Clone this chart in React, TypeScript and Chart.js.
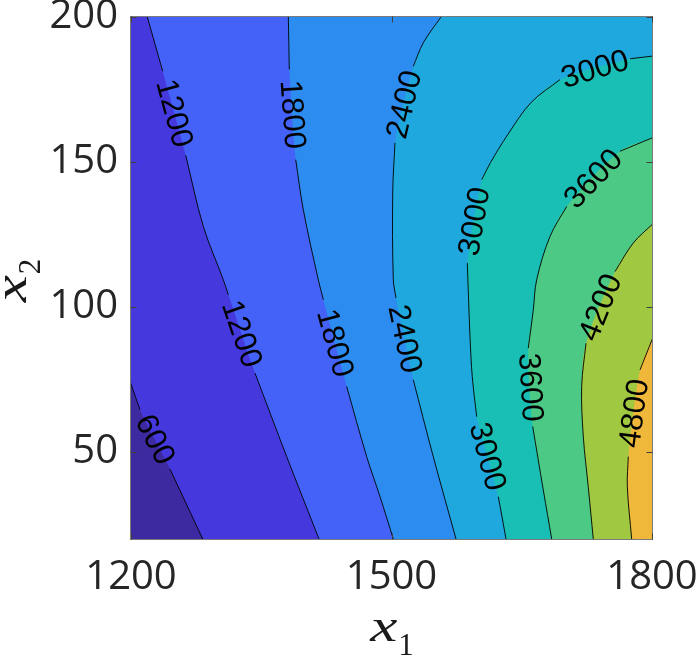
import React, { useEffect, useRef } from 'react';
import { Chart, registerables } from 'chart.js';

Chart.register(...registerables);

// ---------- data ----------
const X_TICKS = [1200, 1500, 1800];
const Y_TICKS = [50, 100, 150, 200];
const X_MIN = 1200;
const X_MAX = 1800;
const Y_MIN = 20;
const Y_MAX = 200;
const LEVELS = [600, 1200, 1800, 2400, 3000, 3600, 4200, 4800];
const BAND_COLORS = ['#3e2aa0', '#4539de', '#4462f7', '#2d8cef', '#1fa8dd', '#19bfb5', '#4cc984', '#a0c840', '#efb83a'];

type P = [number, number] | null;
// each contour: points along the line; null marks a gap holding the level label
const C600: P[] = [[1200, 73.4], [1210.4, 64.5], null, [1244.9, 44.1], [1282.6, 20]];
const C1200: P[] = [[1218.8, 200], [1236.5, 181.3], null, [1263, 152.3], [1283.3, 127.8], [1306.3, 109.4], [1312.1, 104.2], null, [1342.8, 77.2], [1379.3, 48.4], [1416.5, 20]];
const C1800: P[] = [[1381.2, 200], [1382.3, 181.9], null, [1389.7, 150.8], [1398.4, 133.6], [1415.7, 109.4], [1421.5, 102.5], null, [1448.4, 72.6], [1471.4, 48.4], [1486.8, 34.6], [1502.1, 20]];
const C2400: P[] = [[1557, 200], [1536.6, 191.1], [1525.1, 183.0], null, [1504, 156.6], [1501.4, 139.3], [1502.1, 109.4], [1505.2, 103.1], null, [1525.1, 74.9], [1548.1, 48.4], [1574.3, 20]];
const C3000: P[] = [[1800, 186.5], [1774.7, 185.6], null, [1694, 178.4], [1661, 170.6], [1634, 159.5], [1614, 149.8], [1603.9, 143.9], null, [1587.3, 115.2], [1588.5, 105], [1590.4, 89.8], [1593, 76], [1598.1, 62.2], null, [1623, 34.6], [1631.9, 20]];
const C3600: P[] = [[1800, 158.3], [1763.1, 153.7], null, [1701.8, 134.7], [1682.5, 124.3], [1667.2, 109.4], [1663.3, 99], [1657.5, 85.8], null, [1662.6, 58.8], [1674.8, 36.9], [1684.5, 20]];
const C4200: P[] = [[1800, 128.4], [1778.5, 122.1], [1757.4, 112.2], null, [1724, 87.5], [1719, 72.6], [1720.9, 55.3], [1726.6, 38], [1732.4, 20]];
const C4800: P[] = [[1800, 88.7], [1786.2, 78.3], null, [1772.7, 48.4], [1771.6, 38], [1776.6, 20]];

const CONTOURS = [C600, C1200, C1800, C2400, C3000, C3600, C4200, C4800];

const TENSION = 0.35;

// ---------- helpers ----------
type XY = { x: number | null; y: number | null };
const xy = (p: [number, number]): XY => ({ x: p[0], y: p[1] });

// continue a contour a little past the frame so the smoothing ends outside the clipped area
function outward(a: [number, number], b: [number, number]): [number, number] {
  return [a[0] + (a[0] - b[0]) * 3, a[1] + (a[1] - b[1]) * 3];
}

function lineData(pts: P[]): XY[] {
  const solid = pts.filter((p) => p !== null) as [number, number][];
  const s = outward(solid[0], solid[1]);
  const e = outward(solid[solid.length - 1], solid[solid.length - 2]);
  return [xy(s), ...pts.map((p) => (p ? xy(p) : { x: null, y: null })), xy(e)];
}

// region above a level: the contour, then around the (enlarged) frame back to its start
function regionPolygon(pts: P[]): XY[] {
  const solid = pts.filter((p) => p !== null) as [number, number][];
  const start = solid[0];
  const s = outward(solid[0], solid[1]);
  const e = outward(solid[solid.length - 1], solid[solid.length - 2]);
  const dx = (X_MAX - X_MIN) / 6;
  const dy = (Y_MAX - Y_MIN) / 2;
  const corners: [number, number][] = [[X_MAX + dx, Y_MIN - dy]];
  if (start[0] !== X_MAX) corners.push([X_MAX + dx, Y_MAX + dy]);
  if (start[0] === X_MIN) corners.push([X_MIN - dx, Y_MAX + dy]);
  return [s, ...solid, e, ...corners].map(xy);
}

// italic "x" (slightly widened, like TeX's math italic) with an upright subscript
function drawSub(ctx: CanvasRenderingContext2D, base: string, sub: string, cx: number, by: number) {
  const f1 = 'italic 47px "Liberation Serif", "DejaVu Serif", serif';
  const f2 = '31px "Liberation Serif", "DejaVu Serif", serif';
  const stretch = 1.3;
  ctx.font = f1;
  const w1 = ctx.measureText(base).width * stretch;
  ctx.font = f2;
  const w2 = ctx.measureText(sub).width;
  const s = cx - (w1 + w2) / 2;
  ctx.textAlign = 'left';
  ctx.textBaseline = 'alphabetic';
  ctx.save();
  ctx.translate(s, by);
  ctx.scale(stretch, 1);
  ctx.font = f1;
  ctx.fillText(base, 0, 0);
  ctx.restore();
  ctx.font = f2;
  ctx.fillText(sub, s + w1 + 1, by + 14);
}

const overlay = {
  id: 'overlay',
  afterDatasetsDraw(chart: any) {
    const { ctx, chartArea: a, scales } = chart;
    const xs = scales.x;
    const ys = scales.y;
    ctx.save();
    // contour labels
    ctx.fillStyle = '#000';
    ctx.font = '31px "Liberation Sans", Arial, sans-serif';
    ctx.textAlign = 'center';
    ctx.textBaseline = 'middle';
    CONTOURS.forEach((pts, i) => {
      for (let k = 1; k < pts.length - 1; k++) {
        if (pts[k] !== null) continue;
        const p0 = pts[k - 1] as [number, number];
        const p1 = pts[k + 1] as [number, number];
        const x0 = xs.getPixelForValue(p0[0]);
        const y0 = ys.getPixelForValue(p0[1]);
        const x1 = xs.getPixelForValue(p1[0]);
        const y1 = ys.getPixelForValue(p1[1]);
        let ang = Math.atan2(y1 - y0, x1 - x0);
        if (ang > Math.PI / 2 + 1e-6) ang -= Math.PI;
        else if (ang <= -Math.PI / 2) ang += Math.PI;
        ctx.save();
        ctx.translate((x0 + x1) / 2, (y0 + y1) / 2);
        ctx.rotate(ang);
        ctx.fillText(String(LEVELS[i]), 0, 1);
        ctx.restore();
      }
    });
    // frame
    ctx.strokeStyle = '#7a7a7a';
    ctx.lineWidth = 1;
    const L = Math.round(a.left) - 0.5;
    const R = Math.round(a.right) + 0.5;
    const T = Math.round(a.top) - 0.5;
    const B = Math.round(a.bottom) + 0.5;
    ctx.strokeRect(L, T, R - L, B - T);
    // inward ticks on all four sides
    ctx.strokeStyle = '#404040';
    ctx.beginPath();
    X_TICKS.forEach((v) => {
      const px = Math.round(xs.getPixelForValue(v)) + 0.5;
      ctx.moveTo(px, B); ctx.lineTo(px, B - 6);
      ctx.moveTo(px, T); ctx.lineTo(px, T + 6);
    });
    Y_TICKS.forEach((v) => {
      const py = Math.round(ys.getPixelForValue(v)) + 0.5;
      ctx.moveTo(L, py); ctx.lineTo(L + 6, py);
      ctx.moveTo(R, py); ctx.lineTo(R - 6, py);
    });
    ctx.stroke();
    // axis titles
    ctx.fillStyle = '#1a1a1a';
    drawSub(ctx, 'x', '1', (a.left + a.right) / 2, 641);
    ctx.save();
    ctx.translate(26, (a.top + a.bottom) / 2 + 3);
    ctx.rotate(-Math.PI / 2);
    drawSub(ctx, 'x', '2', 0, 0);
    ctx.restore();
    ctx.restore();
  },
};

export default function App() {
  const ref = useRef<HTMLCanvasElement | null>(null);
  useEffect(() => {
    if (!ref.current) return;
    const datasets: any[] = [];
    // base band (below the lowest level)
    datasets.push({
      data: [xy([X_MIN, Y_MIN]), xy([X_MAX, Y_MIN]), xy([X_MAX, Y_MAX]), xy([X_MIN, Y_MAX])],
      showLine: true, fill: 'shape', backgroundColor: BAND_COLORS[0], borderWidth: 0, borderColor: 'transparent',
      pointRadius: 0, tension: 0, order: 100,
    });
    CONTOURS.forEach((pts, i) => {
      datasets.push({
        data: regionPolygon(pts),
        showLine: true, fill: 'shape', backgroundColor: BAND_COLORS[i + 1], borderWidth: 0, borderColor: 'transparent',
        pointRadius: 0, tension: TENSION, capBezierPoints: false, order: 99 - i,
      });
    });
    CONTOURS.forEach((pts) => {
      datasets.push({
        data: lineData(pts),
        showLine: true, fill: false, borderColor: '#000', borderWidth: 0.9, backgroundColor: 'transparent',
        pointRadius: 0, tension: TENSION, capBezierPoints: false, spanGaps: false, order: 0,
      });
    });
    const tickFont = { family: '"Open Sans", "Noto Sans", sans-serif', size: 40 };
    const chart = new Chart(ref.current, {
      type: 'scatter',
      data: { datasets },
      plugins: [overlay],
      options: {
        animation: false,
        responsive: false,
        events: [],
        layout: { padding: { top: 17, right: 45, left: 0, bottom: 0 } },
        plugins: { legend: { display: false }, tooltip: { enabled: false } },
        scales: {
          x: {
            type: 'linear', min: X_MIN, max: X_MAX,
            afterBuildTicks: (s: any) => { s.ticks = X_TICKS.map((v) => ({ value: v })); },
            ticks: { font: tickFont, color: '#262626', padding: 15, maxRotation: 0, autoSkip: false, callback: (v: any) => String(v) },
            grid: { display: false, drawTicks: false },
            border: { display: false },
            afterFit: (s: any) => { s.height = 126; s.paddingLeft = 0; s.paddingRight = 0; },
          },
          y: {
            type: 'linear', min: Y_MIN, max: Y_MAX,
            afterBuildTicks: (s: any) => { s.ticks = Y_TICKS.map((v) => ({ value: v })); },
            ticks: { font: tickFont, color: '#262626', padding: 13, autoSkip: false, callback: (v: any) => String(v) },
            grid: { display: false, drawTicks: false },
            border: { display: false },
            afterFit: (s: any) => { s.width = 131; s.paddingTop = 0; s.paddingBottom = 0; },
          },
        },
      } as any,
    });
    return () => chart.destroy();
  }, []);
  return (
    <div style={{ position: 'absolute', left: 0, top: 0, width: 697, height: 665, background: '#fff' }}>
      <canvas ref={ref} width={697} height={665} style={{ display: 'block' }} />
    </div>
  );
}
